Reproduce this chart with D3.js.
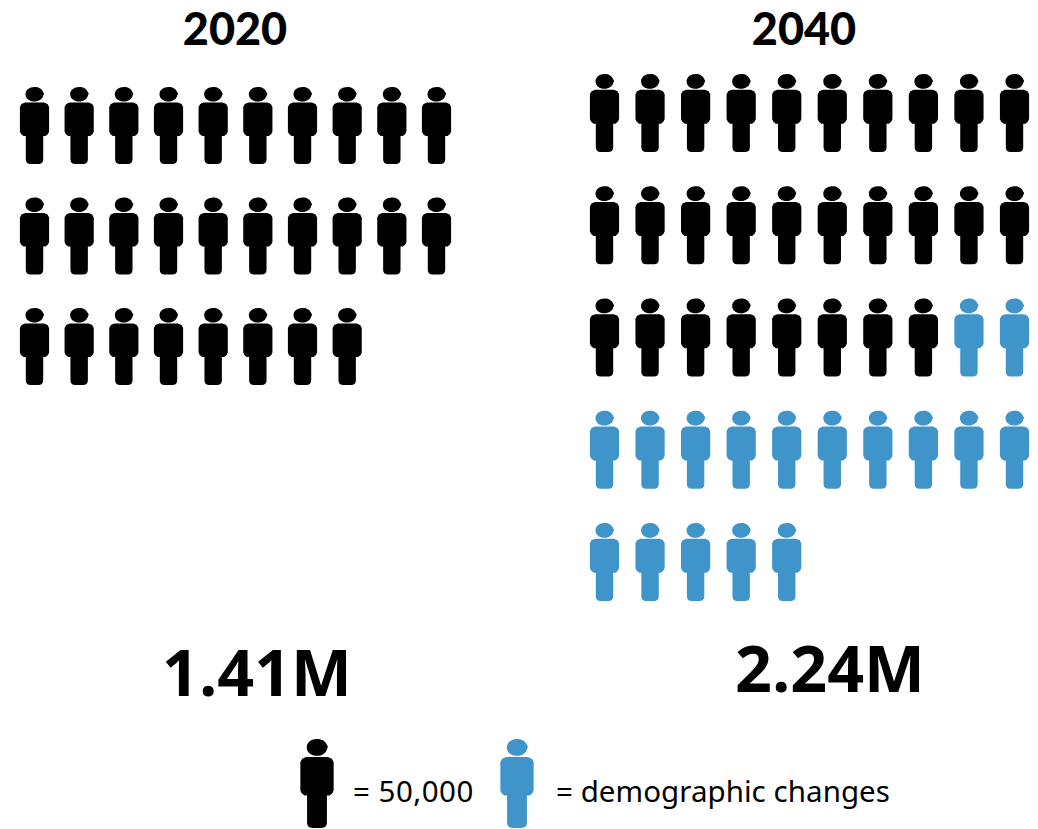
<!DOCTYPE html>
<html>
<head>
<meta charset="utf-8">
<style>html,body{margin:0;padding:0;background:#fff}svg{display:block}</style>
<script src="https://cdn.jsdelivr.net/npm/d3@7/dist/d3.min.js"></script>
</head>
<body>
<script>
const unitValue = 50000;
const years = ["2020", "2040"];
const baseCounts = [28, 28];
const changeCounts = [0, 17];
const totalLabels = ["1.41M", "2.24M"];
const legendLabels = ["= 50,000", "= demographic changes"];
const baseColor = "#000000";
const changeColor = "#3f95c9";

const width = 1038, height = 829;
const svg = d3.select("body").append("svg").attr("width", width).attr("height", height);

// Person glyph: centred on x = 0, feet at y = 77
const person = "M-9 7.3C-9 3 -5 0 0 0C4.5 0 7.5 2 8.6 5L9.6 6.8L8.8 8.6C8 12 4.5 14.6 0 14.6C-5 14.6 -9 11.6 -9 7.3Z" +
  "M-9.5 15.6H9.5L13 17L14.6 20V44.5L13.5 47L11 49H8.7V72.5C8.7 75.5 6.5 77 4 77H-4C-6.5 77 -8.7 75.5 -8.7 72.5V49H-11L-13.5 47L-14.6 44.5V20L-13 17Z";

const columnIndex = d3.range(10);
const panels = [
  {x: d3.scalePoint().domain(columnIndex).range([34.5, 436.5]), y: d3.scalePoint().domain(d3.range(3)).range([87, 308]), sy: 1, titleX: 235, titleY: 45, totalX: 257, totalY: 696},
  {x: d3.scalePoint().domain(columnIndex).range([604.5, 1014.5]), y: d3.scalePoint().domain(d3.range(5)).range([74, 523]), sy: 1.013, titleX: 804, titleY: 45, totalX: 830, totalY: 692}
];

panels.forEach((p, i) => {
  const icons = d3.range(baseCounts[i] + changeCounts[i]).map(k => ({k, change: k >= baseCounts[i]}));
  svg.append("g").selectAll("path").data(icons).join("path")
    .attr("d", person)
    .attr("fill", d => d.change ? changeColor : baseColor)
    .attr("transform", d => `translate(${p.x(d.k % 10)},${p.y(Math.floor(d.k / 10))}) scale(1,${p.sy})`);
  svg.append("text").attr("x", p.titleX).attr("y", p.titleY).attr("text-anchor", "middle")
    .attr("font-family", "Lato").attr("font-weight", 900).attr("font-size", 45).text(years[i]);
  svg.append("text").attr("x", p.totalX).attr("y", p.totalY).attr("text-anchor", "middle")
    .attr("font-family", "'Open Sans'").attr("font-weight", 700).attr("font-size", 64.5).text(totalLabels[i]);
});

// Key at the foot of the chart
const legend = [
  {color: baseColor, iconX: 317, textX: 353, spacing: 0.5},
  {color: changeColor, iconX: 517, textX: 556, spacing: 0.05}
];
legend.forEach((l, i) => {
  svg.append("path").attr("d", person).attr("fill", l.color)
    .attr("transform", `translate(${l.iconX},739) scale(1.14,1.155)`);
  svg.append("text").attr("x", l.textX).attr("y", 802)
    .attr("font-family", "'Noto Sans'").attr("font-size", 29.5).attr("letter-spacing", l.spacing)
    .attr("fill", "#000").text(legendLabels[i]);
});
</script>
</body>
</html>
